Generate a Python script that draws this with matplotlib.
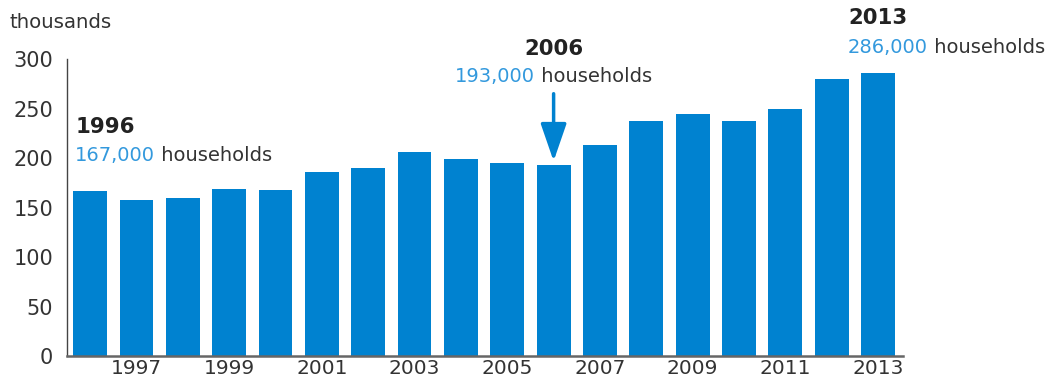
import numpy as np
import matplotlib.pyplot as plt

years = np.arange(1996, 2014)
households = [167, 158, 160, 169, 168, 186, 190, 206, 199, 195,
              193, 213, 237, 245, 237, 250, 280, 286]
tick_years = list(range(1997, 2014, 2))
yticks = [0, 50, 100, 150, 200, 250, 300]

bar_blue = '#0082d0'
label_blue = '#3399dd'
dark = '#333333'

plt.rcParams['font.family'] = ['DejaVu Sans']

fig = plt.figure(figsize=(10.52, 3.83), dpi=100)
ax = fig.add_axes([0.0637, 0.0692, 0.7947, 0.7767])

ax.bar(years, households, width=0.73, color=bar_blue)
ax.set_xlim(1995.5, 2013.54)
ax.set_ylim(0, 300)
ax.set_xticks(tick_years)
ax.set_xticklabels([str(y) for y in tick_years], fontsize=14.5, color=dark)
ax.set_yticks(yticks)
ax.set_yticklabels([str(v) for v in yticks], fontsize=15, color=dark)
ax.tick_params(axis='y', length=0, pad=10)
ax.tick_params(axis='x', length=0, pad=2)

for side in ['top', 'right']:
    ax.spines[side].set_visible(False)
ax.spines['left'].set_color('#444444')
ax.spines['left'].set_linewidth(1.0)
ax.spines['bottom'].set_color('#666666')
ax.spines['bottom'].set_linewidth(1.8)

fig.text(10 / 1052, 1 - 22 / 383, 'thousands', fontsize=14.2, color=dark, va='center')


def callout(x, y_year, y_num, year, value):
    ax.text(x, y_year, str(year), fontsize=15.3, fontweight='bold', color='#222222',
            va='center', ha='left', clip_on=False)
    t = ax.text(x, y_num, f'{value:,}', fontsize=14, color=label_blue,
                va='center', ha='left', clip_on=False)
    ax.annotate(' households', xy=(1, 0.5), xycoords=t, va='center', ha='left',
                fontsize=14, color=dark, annotation_clip=False)


callout(1995.68, 231, 203, 1996, households[0] * 1000)
callout(2012.35, 341, 312, 2013, households[-1] * 1000)

# 2006 callout, centred over its bar with an arrow down
i06 = list(years).index(2006)
ax.text(2006, 310, '2006', fontsize=15.3, fontweight='bold', color='#222222',
        va='center', ha='center', clip_on=False)
t06 = ax.text(2003.87, 282, f'{households[i06] * 1000:,}', fontsize=14,
              color=label_blue, va='center', ha='left', clip_on=False)
ax.annotate(' households', xy=(1, 0.5), xycoords=t06, va='center', ha='left',
            fontsize=14, color=dark, annotation_clip=False)
ax.annotate('', xy=(2006, households[i06] + 4), xytext=(2006, 265),
            arrowprops=dict(arrowstyle='-|>,head_length=0.58,head_width=0.2',
                            mutation_scale=40, lw=2.5, color=bar_blue,
                            shrinkA=0, shrinkB=0),
            annotation_clip=False)

fig.savefig('out.png', dpi=100)
